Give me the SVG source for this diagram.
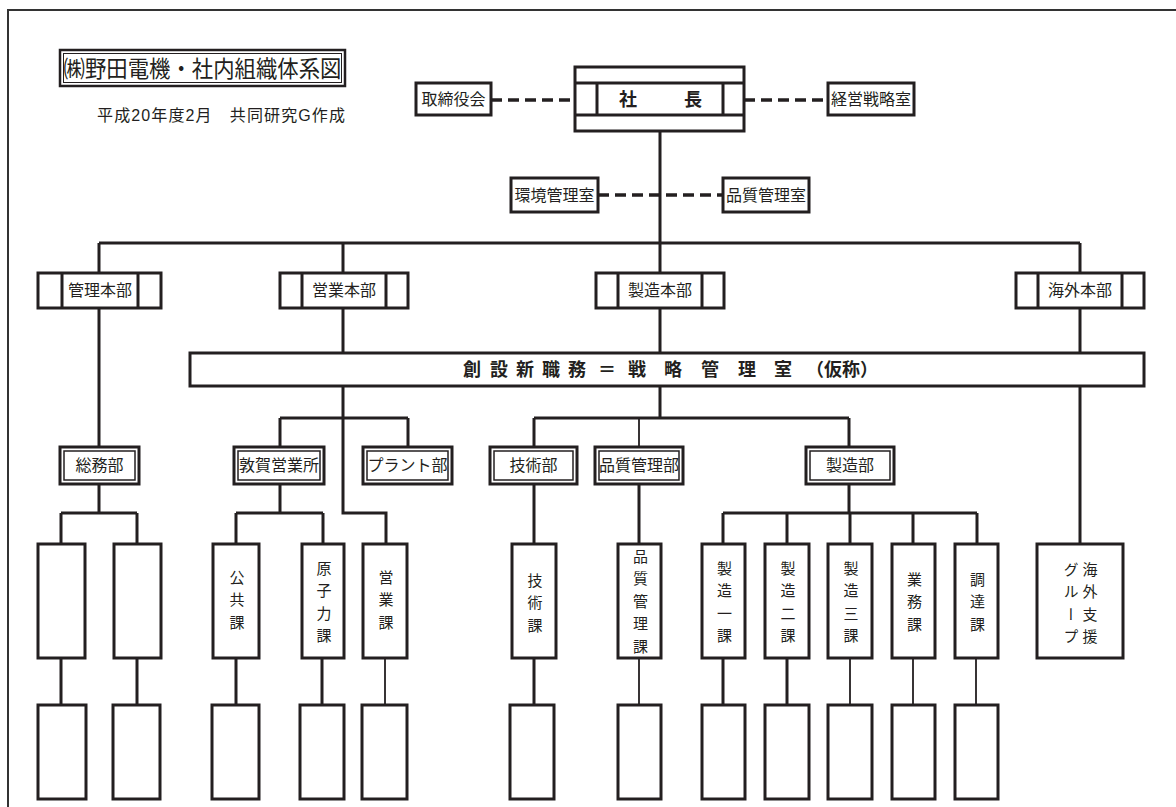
<svg xmlns="http://www.w3.org/2000/svg" width="1176" height="807" viewBox="0 0 1176 807">
<style>
.ln{stroke:#231f20;stroke-width:3;fill:none}
.thin{stroke-width:1.8}
.dash{stroke-dasharray:11 6;stroke-width:3.5}
.box{fill:#fff;stroke:#231f20;stroke-width:3}
.box2{fill:none;stroke:#231f20;stroke-width:1.5}
.t{font-family:"Liberation Sans","Noto Sans CJK JP",sans-serif;fill:#231f20;font-size:16px;text-anchor:middle}
.v{font-family:"Liberation Sans","Noto Sans CJK JP",sans-serif;fill:#231f20;font-size:15px;writing-mode:vertical-rl;letter-spacing:7.5px}
.b{font-weight:bold;font-size:18px}
</style>
<rect width="1176" height="807" fill="#fff"/>
<path d="M8 807V10H1176" fill="none" stroke="#333" stroke-width="2"/>

<g id="title">
<rect x="60" y="50" width="285" height="36" fill="#fff" stroke="#231f20" stroke-width="2.5"/>
<rect x="63.5" y="53.5" width="278" height="29" fill="none" stroke="#231f20" stroke-width="1"/>
<text class="t" x="202.5" y="76.5" style="font-size:23px" textLength="278" lengthAdjust="spacingAndGlyphs">㈱野田電機・社内組織体系図</text>
</g>
<g id="subtitle">
<text class="t" x="97" y="121" style="text-anchor:start;font-size:16px" textLength="248">平成20年度2月　共同研究G作成</text>
</g>

<g id="connectors">
<path class="ln dash" d="M491 100H575M744 100H828M598 195H723"/>
<path class="ln" d="M660 131V273M660 308V353M660 386V418M99 243H1080M99 243V273M99 308V447M343 243V273M343 308V353M343 386V513H386V544M1080 243V273M1080 308V353M1080 386V544M280 418H408M280 418V447M408 418V447M534 418H849M534 418V447M849 418V447M99 484V513M61 513H137M61 513V544M137 513V544M280 484V513M236 513H323M236 513V544M323 513V544M534 484V544M639 484V544M849 484V513M723 513H977M723 513V544M787 513V544M850 513V544M913 513V544M977 513V544M61 658V705M137 658V705M236 658V705M322 658V705M534 658V705M723 658V705M787 658V705"/>
<path class="ln thin" d="M639 418V447M385 658V705M639 658V705M850 658V705M913 658V705M976 658V705"/>
</g>

<g id="president">
<rect class="box" x="575" y="67" width="169" height="64"/>
<path class="ln" d="M575 83H744M575 115H744M597 83V115M723 83V115"/>
<text class="t b" x="628" y="105.5">社</text>
<text class="t b" x="693" y="105.5">長</text>
</g>
<g id="board"><rect class="box" x="416" y="83" width="75" height="32"/><text class="t" x="453.5" y="105">取締役会</text></g>
<g id="strategy-office"><rect class="box" x="828" y="83" width="86" height="32"/><text class="t" x="871" y="105">経営戦略室</text></g>
<g id="env-office"><rect class="box" x="511" y="178" width="87" height="34"/><text class="t" x="554.5" y="201">環境管理室</text></g>
<g id="qc-office"><rect class="box" x="723" y="178" width="86" height="34"/><text class="t" x="766" y="201">品質管理室</text></g>

<g id="hq-admin"><rect class="box" x="38" y="273" width="123" height="35"/><path class="ln" d="M62 273V308M138 273V308"/><text class="t" x="100" y="296">管理本部</text></g>
<g id="hq-sales"><rect class="box" x="280" y="273" width="128" height="35"/><path class="ln" d="M302 273V308M386 273V308"/><text class="t" x="344" y="296">営業本部</text></g>
<g id="hq-mfg"><rect class="box" x="596" y="273" width="128" height="35"/><path class="ln" d="M618 273V308M702 273V308"/><text class="t" x="660" y="296">製造本部</text></g>
<g id="hq-overseas"><rect class="box" x="1016" y="273" width="128" height="35"/><path class="ln" d="M1038 273V308M1122 273V308"/><text class="t" x="1080" y="296">海外本部</text></g>

<g id="strategy-bar">
<rect class="box" x="190" y="353" width="954" height="33"/>
<text class="t b" style="text-anchor:start" x="463 490 516 542 568 598 628 664 701 738 774 806 824 842 860" y="376">創設新職務＝戦略管理室（仮称）</text>
</g>

<g id="dept-general"><rect class="box" x="60" y="447" width="79" height="37" stroke-width="2.5"/><rect class="box2" x="64" y="451" width="71" height="29"/><text class="t" x="99.5" y="471">総務部</text></g>
<g id="dept-tsuruga"><rect class="box" x="234" y="447" width="90" height="37" stroke-width="2.5"/><rect class="box2" x="238" y="451" width="82" height="29"/><text class="t" x="279" y="471">敦賀営業所</text></g>
<g id="dept-plant"><rect class="box" x="363" y="447" width="89" height="37" stroke-width="2.5"/><rect class="box2" x="367" y="451" width="81" height="29"/><text class="t" x="407.5" y="471">プラント部</text></g>
<g id="dept-tech"><rect class="box" x="490" y="447" width="87" height="37" stroke-width="2.5"/><rect class="box2" x="494" y="451" width="79" height="29"/><text class="t" x="533.5" y="471">技術部</text></g>
<g id="dept-qc"><rect class="box" x="595" y="447" width="88" height="37" stroke-width="2.5"/><rect class="box2" x="599" y="451" width="80" height="29"/><text class="t" x="639" y="471">品質管理部</text></g>
<g id="dept-mfg"><rect class="box" x="806" y="447" width="88" height="37" stroke-width="2.5"/><rect class="box2" x="810" y="451" width="80" height="29"/><text class="t" x="850" y="471">製造部</text></g>

<g id="sec-blank1"><rect class="box" x="38" y="544" width="47" height="114"/></g>
<g id="sec-blank2"><rect class="box" x="114" y="544" width="47" height="114"/></g>
<g id="sec-public"><rect class="box" x="213" y="544" width="46" height="114"/><text class="v" x="236" y="569.5">公共課</text></g>
<g id="sec-nuclear"><rect class="box" x="302" y="544" width="42" height="114"/><text class="v" x="323" y="560.5">原子力課</text></g>
<g id="sec-sales"><rect class="box" x="363" y="544" width="44" height="114"/><text class="v" x="385" y="569.5">営業課</text></g>
<g id="sec-tech"><rect class="box" x="512" y="544" width="44" height="114"/><text class="v" x="534" y="572.5">技術課</text></g>
<g id="sec-qc"><rect class="box" x="618" y="544" width="43" height="114"/><text class="v" x="639.5" y="548.5">品質管理課</text></g>
<g id="sec-mfg1"><rect class="box" x="702" y="544" width="43" height="114"/><text class="v" x="723.5" y="560.5">製造一課</text></g>
<g id="sec-mfg2"><rect class="box" x="765" y="544" width="44" height="114"/><text class="v" x="787" y="560.5">製造二課</text></g>
<g id="sec-mfg3"><rect class="box" x="828" y="544" width="44" height="114"/><text class="v" x="850" y="560.5">製造三課</text></g>
<g id="sec-ops"><rect class="box" x="892" y="544" width="43" height="114"/><text class="v" x="913.5" y="571.5">業務課</text></g>
<g id="sec-procure"><rect class="box" x="955" y="544" width="43" height="114"/><text class="v" x="976.5" y="571.5">調達課</text></g>
<g id="sec-overseas"><rect class="box" x="1037" y="544" width="86" height="114"/><text class="v" x="1089" y="561.5">海外支援</text><text class="v" x="1070" y="561.5">グループ</text></g>

<g id="sub1"><rect class="box" x="38" y="705" width="48" height="94"/></g>
<g id="sub2"><rect class="box" x="113" y="705" width="47" height="94"/></g>
<g id="sub3"><rect class="box" x="212" y="705" width="47" height="94"/></g>
<g id="sub4"><rect class="box" x="300" y="705" width="44" height="94"/></g>
<g id="sub5"><rect class="box" x="362" y="705" width="45" height="94"/></g>
<g id="sub6"><rect class="box" x="510" y="705" width="44" height="94"/></g>
<g id="sub7"><rect class="box" x="618" y="705" width="43" height="94"/></g>
<g id="sub8"><rect class="box" x="702" y="705" width="43" height="94"/></g>
<g id="sub9"><rect class="box" x="765" y="705" width="44" height="94"/></g>
<g id="sub10"><rect class="box" x="828" y="705" width="44" height="94"/></g>
<g id="sub11"><rect class="box" x="892" y="705" width="43" height="94"/></g>
<g id="sub12"><rect class="box" x="955" y="705" width="43" height="94"/></g>
</svg>
